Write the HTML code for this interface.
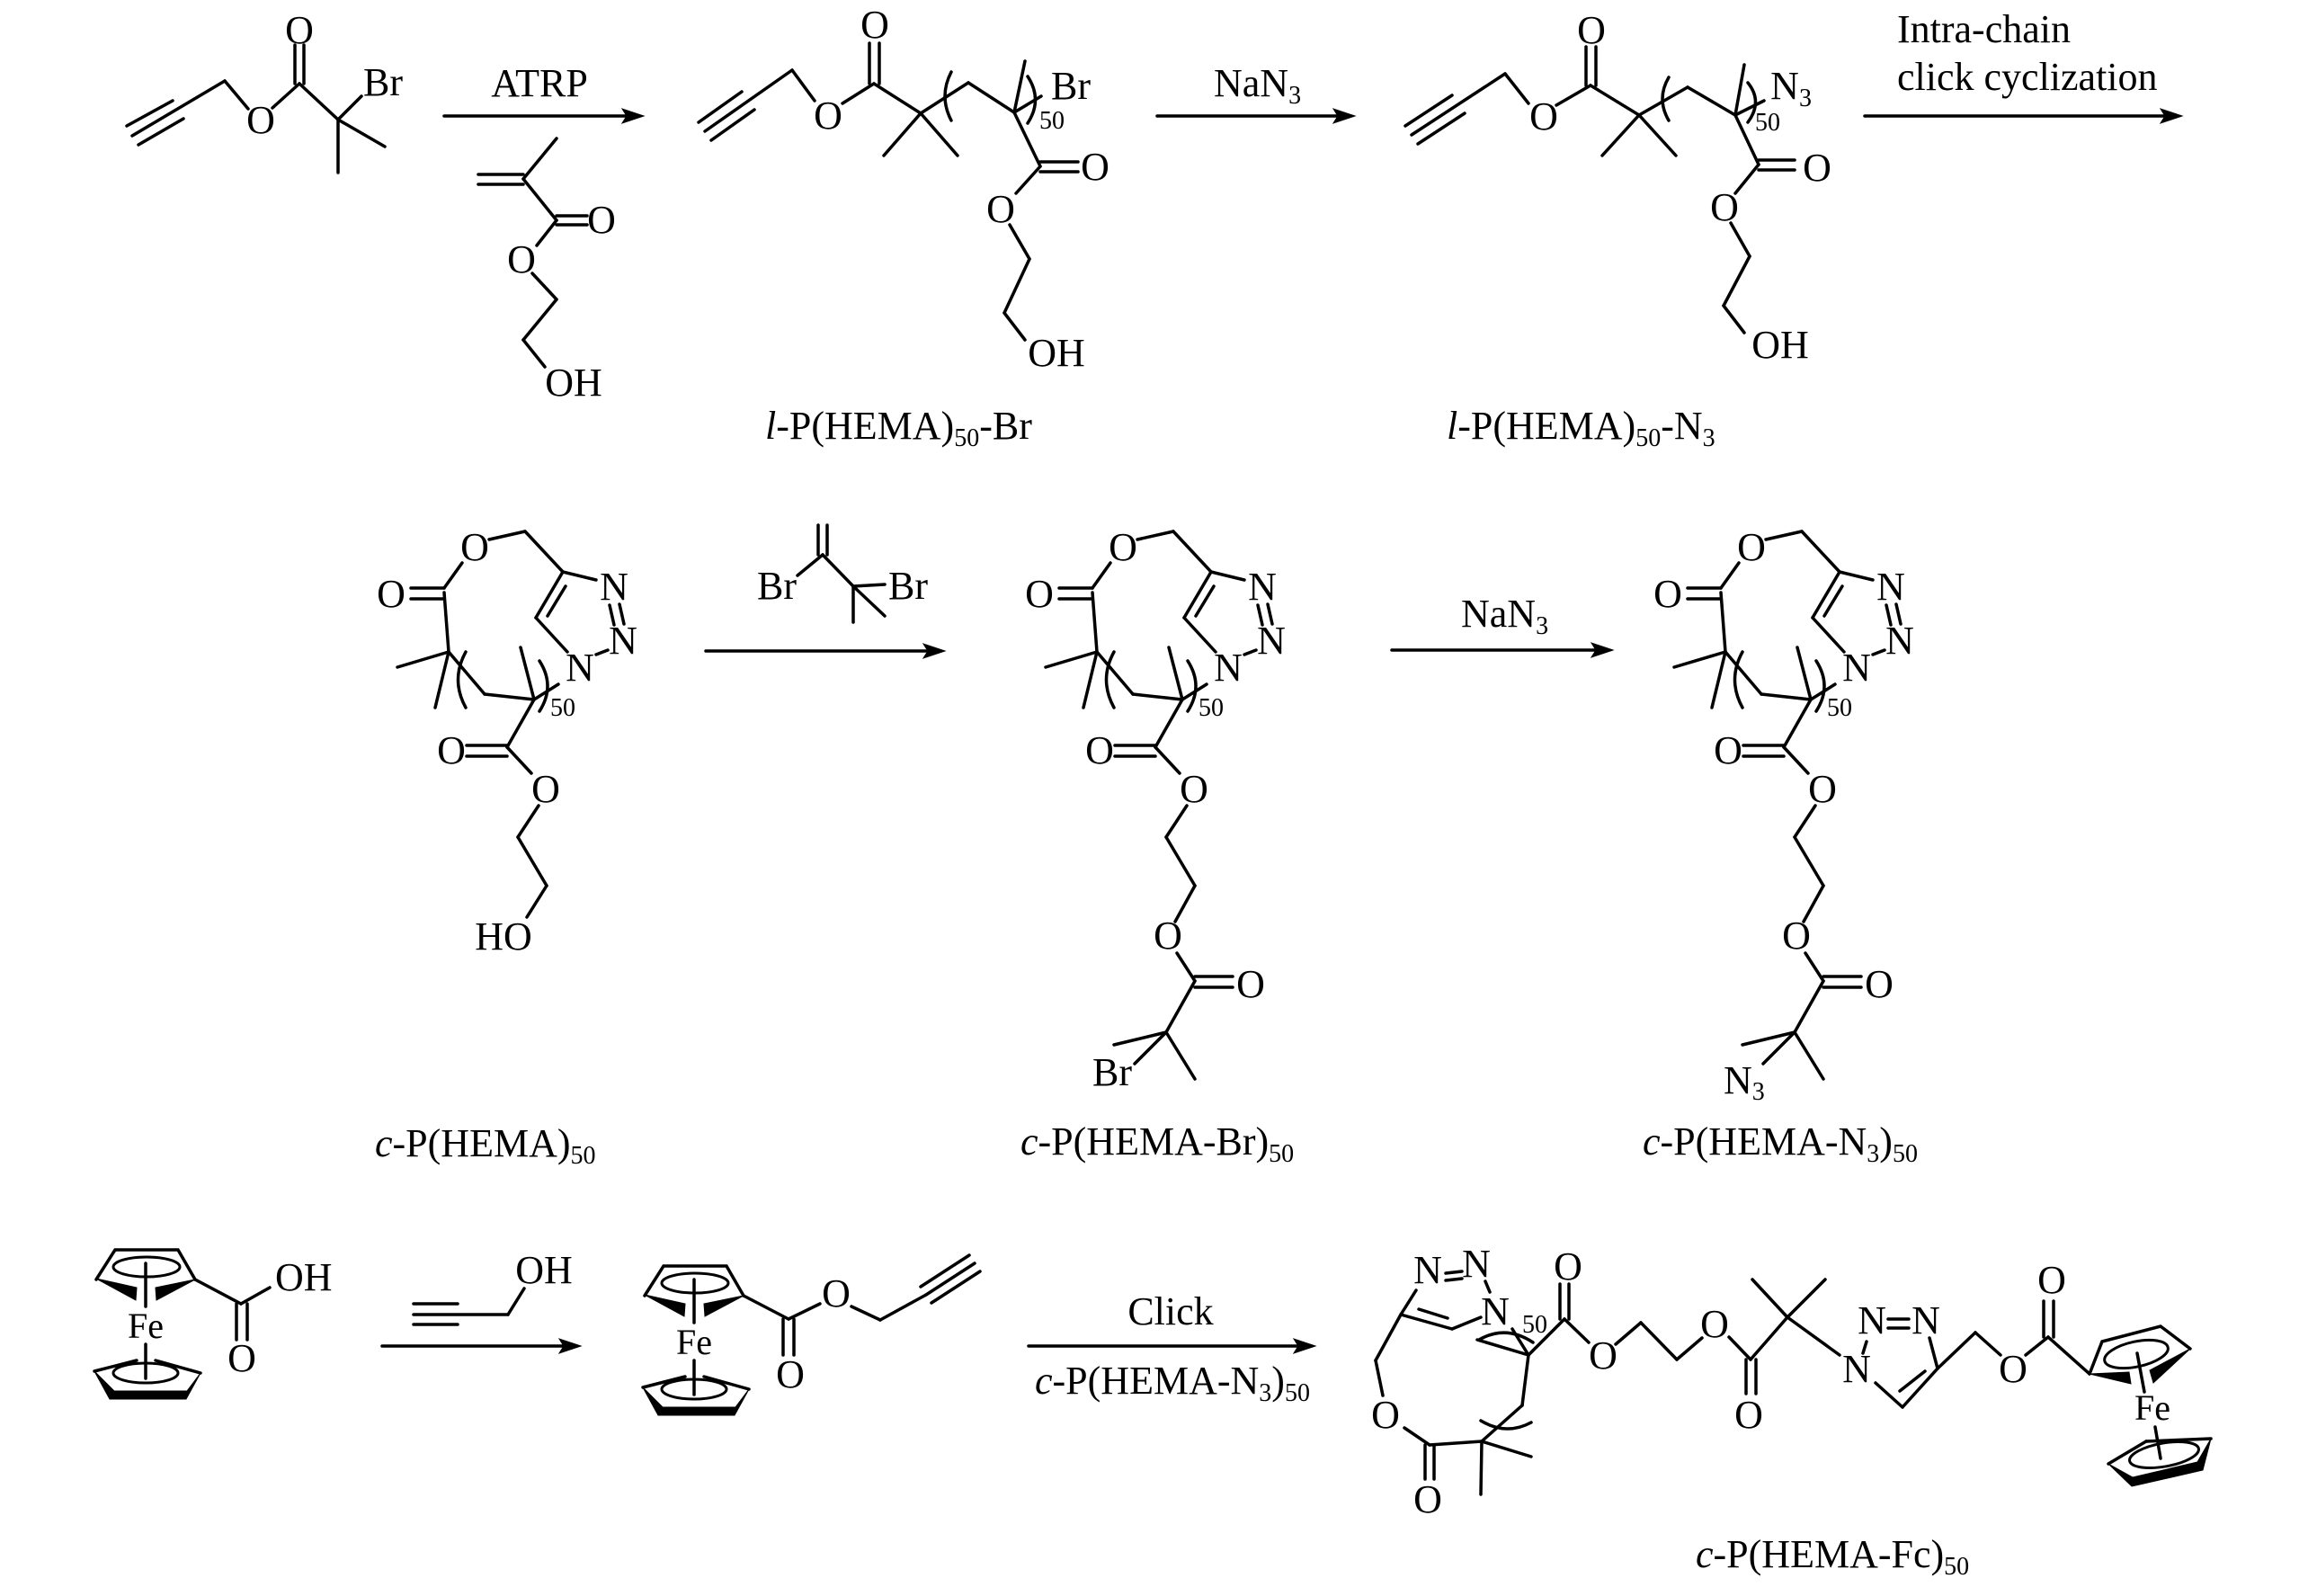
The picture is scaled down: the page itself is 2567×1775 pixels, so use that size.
<!DOCTYPE html>
<html><head><meta charset="utf-8"><style>
html,body{margin:0;padding:0;background:#fff;}
svg{display:block;}
line,path,polyline{stroke:#000;stroke-width:3.5;fill:none;stroke-linecap:round;}
ellipse{stroke:#000;stroke-width:3;fill:none;}
polygon{fill:#000;stroke:#000;stroke-width:1;}
text{font-family:"Liberation Serif","Times New Roman",serif;font-size:44px;fill:#000;}
.m{text-anchor:middle;}
.s{font-size:28px;}
.fe{font-size:40px;}
</style></head><body>
<svg width="2567" height="1775" viewBox="0 0 2567 1775" xmlns="http://www.w3.org/2000/svg">
<rect width="2567" height="1775" fill="#fff"/>

<!-- ===== Row 1: initiator ===== -->
<line x1="141" y1="140" x2="192" y2="112"/>
<line x1="147" y1="151" x2="250" y2="90"/>
<line x1="154" y1="161" x2="204" y2="132"/>
<line x1="250" y1="90" x2="276" y2="121"/>
<text class="m" x="290" y="148">O</text>
<line x1="303" y1="120" x2="333" y2="93"/>
<line x1="328" y1="93" x2="328" y2="50"/>
<line x1="338" y1="93" x2="338" y2="50"/>
<text class="m" x="333" y="48">O</text>
<line x1="333" y1="93" x2="376" y2="133"/>
<line x1="376" y1="133" x2="402" y2="107"/>
<text class="m" x="426" y="106">Br</text>
<line x1="376" y1="133" x2="428" y2="163"/>
<line x1="376" y1="133" x2="376" y2="192"/>

<!-- ATRP arrow -->
<line x1="494" y1="129" x2="700" y2="129" stroke-width="3"/>
<polygon points="716,129 692,121 697,129 692,137"/>
<text class="m" x="600" y="107">ATRP</text>

<!-- HEMA monomer -->
<line x1="619" y1="154" x2="582" y2="199"/>
<line x1="532" y1="194" x2="582" y2="194"/>
<line x1="532" y1="205" x2="582" y2="205"/>
<line x1="582" y1="199" x2="619" y2="245"/>
<line x1="619" y1="240" x2="653" y2="240"/>
<line x1="619" y1="250" x2="653" y2="250"/>
<text class="m" x="669" y="259">O</text>
<line x1="619" y1="245" x2="597" y2="273"/>
<text class="m" x="580" y="303">O</text>
<line x1="592" y1="304" x2="619" y2="333"/>
<line x1="619" y1="333" x2="582" y2="378"/>
<line x1="582" y1="378" x2="606" y2="408"/>
<text class="m" x="638" y="440">OH</text>

<!-- l-P(HEMA)50-Br -->
<line x1="777" y1="136" x2="825" y2="102"/>
<line x1="784" y1="146" x2="881" y2="78"/>
<line x1="791" y1="156" x2="839" y2="122"/>
<line x1="881" y1="78" x2="906" y2="112"/>
<text class="m" x="921" y="143">O</text>
<line x1="937" y1="115" x2="972" y2="93"/>
<line x1="967" y1="93" x2="967" y2="48"/>
<line x1="978" y1="93" x2="978" y2="48"/>
<text class="m" x="973" y="42">O</text>
<line x1="972" y1="93" x2="1024" y2="126"/>
<line x1="1024" y1="126" x2="983" y2="173"/>
<line x1="1024" y1="126" x2="1065" y2="173"/>
<line x1="1024" y1="126" x2="1077" y2="92"/>
<path d="M1058,80 Q1044,107 1058,134" stroke-width="3"/>
<line x1="1077" y1="92" x2="1128" y2="125"/>
<line x1="1128" y1="125" x2="1140" y2="68"/>
<line x1="1128" y1="125" x2="1158" y2="107"/>
<text class="m" x="1191" y="110">Br</text>
<path d="M1143,85 Q1160,111 1143,137" stroke-width="3"/>
<text class="m s" x="1170" y="143">50</text>
<line x1="1128" y1="125" x2="1157" y2="185"/>
<line x1="1157" y1="180" x2="1199" y2="180"/>
<line x1="1157" y1="191" x2="1199" y2="191"/>
<text class="m" x="1218" y="200">O</text>
<line x1="1157" y1="185" x2="1130" y2="215"/>
<text class="m" x="1113" y="247">O</text>
<line x1="1123" y1="250" x2="1145" y2="288"/>
<line x1="1145" y1="288" x2="1117" y2="348"/>
<line x1="1117" y1="348" x2="1140" y2="378"/>
<text class="m" x="1175" y="407">OH</text>
<text x="851" y="488"><tspan font-style="italic">l</tspan>-P(HEMA)<tspan class="s" dy="8">50</tspan><tspan dy="-8">-Br</tspan></text>

<!-- NaN3 arrow -->
<line x1="1287" y1="129" x2="1491" y2="129" stroke-width="3"/>
<polygon points="1507,129 1483,121 1488,129 1483,137"/>
<text x="1350" y="107">NaN<tspan class="s" dy="8">3</tspan></text>

<!-- l-P(HEMA)50-N3 -->
<line x1="1563" y1="140" x2="1615" y2="106"/>
<line x1="1570" y1="150" x2="1674" y2="82"/>
<line x1="1577" y1="160" x2="1629" y2="126"/>
<line x1="1674" y1="82" x2="1700" y2="115"/>
<text class="m" x="1717" y="144">O</text>
<line x1="1731" y1="117" x2="1769" y2="95"/>
<line x1="1764" y1="95" x2="1764" y2="52"/>
<line x1="1775" y1="95" x2="1775" y2="52"/>
<text class="m" x="1770" y="48">O</text>
<line x1="1769" y1="95" x2="1823" y2="128"/>
<line x1="1823" y1="128" x2="1782" y2="173"/>
<line x1="1823" y1="128" x2="1864" y2="173"/>
<line x1="1823" y1="128" x2="1877" y2="97"/>
<path d="M1856,86 Q1842,110 1856,134" stroke-width="3"/>
<line x1="1877" y1="97" x2="1930" y2="128"/>
<line x1="1930" y1="128" x2="1940" y2="72"/>
<line x1="1930" y1="128" x2="1962" y2="112"/>
<text class="m" x="1985" y="110">N</text>
<text class="s" x="2001" y="118">3</text>
<path d="M1944,92 Q1961,113 1944,136" stroke-width="3"/>
<text class="m s" x="1966" y="145">50</text>
<line x1="1930" y1="128" x2="1956" y2="183"/>
<line x1="1956" y1="178" x2="1996" y2="178"/>
<line x1="1956" y1="189" x2="1996" y2="189"/>
<text class="m" x="2021" y="201">O</text>
<line x1="1956" y1="183" x2="1930" y2="215"/>
<text class="m" x="1918" y="245">O</text>
<line x1="1925" y1="248" x2="1946" y2="285"/>
<line x1="1946" y1="285" x2="1917" y2="340"/>
<line x1="1917" y1="340" x2="1940" y2="370"/>
<text class="m" x="1980" y="398">OH</text>
<text x="1609" y="488"><tspan font-style="italic">l</tspan>-P(HEMA)<tspan class="s" dy="8">50</tspan><tspan dy="-8">-N</tspan><tspan class="s" dy="8">3</tspan></text>

<!-- Intra-chain arrow -->
<text x="2110" y="47">Intra-chain</text>
<text x="2110" y="100">click cyclization</text>
<line x1="2074" y1="129" x2="2411" y2="129" stroke-width="3"/>
<polygon points="2427,129 2403,121 2408,129 2403,137"/>

<!-- ===== Row 2 ===== -->
<!-- A: c-P(HEMA)50 -->
<g>
<text class="m" x="528" y="623">O</text>
<line x1="544" y1="600" x2="584" y2="591"/>
<line x1="584" y1="591" x2="626" y2="636"/>
<line x1="626" y1="636" x2="663" y2="645"/>
<text class="m" x="683" y="667">N</text>
<line x1="678" y1="673" x2="683" y2="695"/>
<line x1="689" y1="672" x2="694" y2="694"/>
<text class="m" x="693" y="727">N</text>
<line x1="663" y1="728" x2="676" y2="723"/>
<text class="m" x="645" y="757">N</text>
<line x1="596" y1="687" x2="631" y2="725"/>
<line x1="626" y1="636" x2="596" y2="687"/>
<line x1="629" y1="652" x2="609" y2="685"/>
<line x1="494" y1="654" x2="514" y2="626"/>
<line x1="457" y1="654" x2="494" y2="654"/>
<line x1="457" y1="666" x2="494" y2="666"/>
<text class="m" x="435" y="675">O</text>
<line x1="494" y1="659" x2="499" y2="725"/>
<line x1="499" y1="725" x2="442" y2="742"/>
<line x1="499" y1="725" x2="484" y2="787"/>
<line x1="499" y1="725" x2="539" y2="772"/>
<path d="M518,725 Q501,756 518,787" stroke-width="3"/>
<line x1="539" y1="772" x2="594" y2="778"/>
<line x1="594" y1="778" x2="579" y2="720"/>
<line x1="594" y1="778" x2="621" y2="761"/>
<path d="M600,735 Q618,763 600,791" stroke-width="3"/>
<text class="m s" x="626" y="796">50</text>
<line x1="594" y1="778" x2="564" y2="831"/>
<line x1="519" y1="829" x2="564" y2="829"/>
<line x1="519" y1="841" x2="564" y2="841"/>
<text class="m" x="502" y="849">O</text>
<line x1="564" y1="831" x2="591" y2="860"/>
<text class="m" x="607" y="892">O</text>
<line x1="599" y1="896" x2="576" y2="931"/>
<line x1="576" y1="931" x2="608" y2="985"/>
</g>
<line x1="608" y1="985" x2="586" y2="1020"/>
<text class="m" x="560" y="1056">HO</text>
<text x="417" y="1286"><tspan font-style="italic">c</tspan>-P(HEMA)<tspan class="s" dy="8">50</tspan></text>

<!-- reagent -->
<line x1="910" y1="584" x2="910" y2="617"/>
<line x1="920" y1="584" x2="920" y2="617"/>
<line x1="915" y1="617" x2="887" y2="640"/>
<text class="m" x="864" y="666">Br</text>
<line x1="915" y1="617" x2="949" y2="652"/>
<line x1="949" y1="652" x2="984" y2="650"/>
<text class="m" x="1010" y="666">Br</text>
<line x1="949" y1="652" x2="949" y2="692"/>
<line x1="949" y1="652" x2="984" y2="685"/>
<line x1="785" y1="724" x2="1035" y2="724" stroke-width="3"/>
<polygon points="1051,724 1027,716 1032,724 1027,732"/>

<!-- B: c-P(HEMA-Br)50 -->
<g transform="translate(721,0)">
<text class="m" x="528" y="623">O</text>
<line x1="544" y1="600" x2="584" y2="591"/>
<line x1="584" y1="591" x2="626" y2="636"/>
<line x1="626" y1="636" x2="663" y2="645"/>
<text class="m" x="683" y="667">N</text>
<line x1="678" y1="673" x2="683" y2="695"/>
<line x1="689" y1="672" x2="694" y2="694"/>
<text class="m" x="693" y="727">N</text>
<line x1="663" y1="728" x2="676" y2="723"/>
<text class="m" x="645" y="757">N</text>
<line x1="596" y1="687" x2="631" y2="725"/>
<line x1="626" y1="636" x2="596" y2="687"/>
<line x1="629" y1="652" x2="609" y2="685"/>
<line x1="494" y1="654" x2="514" y2="626"/>
<line x1="457" y1="654" x2="494" y2="654"/>
<line x1="457" y1="666" x2="494" y2="666"/>
<text class="m" x="435" y="675">O</text>
<line x1="494" y1="659" x2="499" y2="725"/>
<line x1="499" y1="725" x2="442" y2="742"/>
<line x1="499" y1="725" x2="484" y2="787"/>
<line x1="499" y1="725" x2="539" y2="772"/>
<path d="M518,725 Q501,756 518,787" stroke-width="3"/>
<line x1="539" y1="772" x2="594" y2="778"/>
<line x1="594" y1="778" x2="579" y2="720"/>
<line x1="594" y1="778" x2="621" y2="761"/>
<path d="M600,735 Q618,763 600,791" stroke-width="3"/>
<text class="m s" x="626" y="796">50</text>
<line x1="594" y1="778" x2="564" y2="831"/>
<line x1="519" y1="829" x2="564" y2="829"/>
<line x1="519" y1="841" x2="564" y2="841"/>
<text class="m" x="502" y="849">O</text>
<line x1="564" y1="831" x2="591" y2="860"/>
<text class="m" x="607" y="892">O</text>
<line x1="599" y1="896" x2="576" y2="931"/>
<line x1="576" y1="931" x2="608" y2="985"/>
</g>
<line x1="1329" y1="985" x2="1307" y2="1025"/>
<text class="m" x="1299" y="1055">O</text>
<line x1="1309" y1="1060" x2="1329" y2="1091"/>
<line x1="1329" y1="1086" x2="1371" y2="1086"/>
<line x1="1329" y1="1098" x2="1371" y2="1098"/>
<text class="m" x="1391" y="1109">O</text>
<line x1="1329" y1="1091" x2="1297" y2="1148"/>
<line x1="1297" y1="1148" x2="1239" y2="1162"/>
<line x1="1297" y1="1148" x2="1262" y2="1183"/>
<text class="m" x="1237" y="1207">Br</text>
<line x1="1297" y1="1148" x2="1329" y2="1200"/>
<text x="1135" y="1284"><tspan font-style="italic">c</tspan>-P(HEMA-Br)<tspan class="s" dy="8">50</tspan></text>

<!-- NaN3 arrow 2 -->
<text x="1625" y="697">NaN<tspan class="s" dy="8">3</tspan></text>
<line x1="1548" y1="723" x2="1778" y2="723" stroke-width="3"/>
<polygon points="1794,723 1770,715 1775,723 1770,731"/>

<!-- C: c-P(HEMA-N3)50 -->
<g transform="translate(1420,0)">
<text class="m" x="528" y="623">O</text>
<line x1="544" y1="600" x2="584" y2="591"/>
<line x1="584" y1="591" x2="626" y2="636"/>
<line x1="626" y1="636" x2="663" y2="645"/>
<text class="m" x="683" y="667">N</text>
<line x1="678" y1="673" x2="683" y2="695"/>
<line x1="689" y1="672" x2="694" y2="694"/>
<text class="m" x="693" y="727">N</text>
<line x1="663" y1="728" x2="676" y2="723"/>
<text class="m" x="645" y="757">N</text>
<line x1="596" y1="687" x2="631" y2="725"/>
<line x1="626" y1="636" x2="596" y2="687"/>
<line x1="629" y1="652" x2="609" y2="685"/>
<line x1="494" y1="654" x2="514" y2="626"/>
<line x1="457" y1="654" x2="494" y2="654"/>
<line x1="457" y1="666" x2="494" y2="666"/>
<text class="m" x="435" y="675">O</text>
<line x1="494" y1="659" x2="499" y2="725"/>
<line x1="499" y1="725" x2="442" y2="742"/>
<line x1="499" y1="725" x2="484" y2="787"/>
<line x1="499" y1="725" x2="539" y2="772"/>
<path d="M518,725 Q501,756 518,787" stroke-width="3"/>
<line x1="539" y1="772" x2="594" y2="778"/>
<line x1="594" y1="778" x2="579" y2="720"/>
<line x1="594" y1="778" x2="621" y2="761"/>
<path d="M600,735 Q618,763 600,791" stroke-width="3"/>
<text class="m s" x="626" y="796">50</text>
<line x1="594" y1="778" x2="564" y2="831"/>
<line x1="519" y1="829" x2="564" y2="829"/>
<line x1="519" y1="841" x2="564" y2="841"/>
<text class="m" x="502" y="849">O</text>
<line x1="564" y1="831" x2="591" y2="860"/>
<text class="m" x="607" y="892">O</text>
<line x1="599" y1="896" x2="576" y2="931"/>
<line x1="576" y1="931" x2="608" y2="985"/>
</g>
<line x1="2028" y1="985" x2="2006" y2="1025"/>
<text class="m" x="1998" y="1055">O</text>
<line x1="2008" y1="1060" x2="2028" y2="1091"/>
<line x1="2028" y1="1086" x2="2070" y2="1086"/>
<line x1="2028" y1="1098" x2="2070" y2="1098"/>
<text class="m" x="2090" y="1109">O</text>
<line x1="2028" y1="1091" x2="1996" y2="1148"/>
<line x1="1996" y1="1148" x2="1938" y2="1162"/>
<line x1="1996" y1="1148" x2="1961" y2="1183"/>
<text x="1917" y="1216">N<tspan class="s" dy="7">3</tspan></text>
<line x1="1996" y1="1148" x2="2028" y2="1200"/>
<text x="1827" y="1284"><tspan font-style="italic">c</tspan>-P(HEMA-N<tspan class="s" dy="8">3</tspan><tspan dy="-8">)</tspan><tspan class="s" dy="8">50</tspan></text>

<!-- ===== Row 3 ===== -->
<!-- Ferrocenecarboxylic acid -->
<polyline points="107,1423 128,1390 198,1390 217,1423"/>
<polygon points="107,1422 152,1432 151,1446"/>
<polygon points="217,1423 173,1432 174,1446"/>
<ellipse cx="163" cy="1409" rx="37" ry="11"/>
<line x1="162" y1="1405" x2="162" y2="1453" stroke-width="3"/>
<text class="m fe" x="162" y="1488">Fe</text>
<line x1="162" y1="1495" x2="162" y2="1533" stroke-width="3"/>
<line x1="105" y1="1525" x2="152" y2="1513"/>
<line x1="173" y1="1513" x2="223" y2="1527"/>
<polygon points="105,1525 122,1556 207,1556 223,1527 208,1547 127,1547"/>
<ellipse cx="162" cy="1527" rx="36" ry="11"/>
<line x1="217" y1="1423" x2="268" y2="1450"/>
<line x1="268" y1="1450" x2="300" y2="1432"/>
<text x="306" y="1435">OH</text>
<line x1="263" y1="1450" x2="263" y2="1490"/>
<line x1="275" y1="1450" x2="275" y2="1490"/>
<text class="m" x="269" y="1525">O</text>

<!-- propargyl alcohol -->
<line x1="460" y1="1450" x2="509" y2="1450" stroke-width="4.5"/>
<line x1="460" y1="1462" x2="565" y2="1462" stroke-width="4"/>
<line x1="460" y1="1473" x2="509" y2="1473" stroke-width="4.5"/>
<line x1="565" y1="1462" x2="583" y2="1433"/>
<text class="m" x="605" y="1427">OH</text>
<line x1="425" y1="1497" x2="630" y2="1497" stroke-width="3"/>
<polygon points="646,1497 622,1489 627,1497 622,1505"/>

<!-- Fc ester -->
<polyline points="717,1441 738,1408 808,1408 827,1441"/>
<polygon points="717,1440 762,1450 761,1464"/>
<polygon points="827,1441 783,1450 784,1464"/>
<ellipse cx="773" cy="1427" rx="37" ry="11"/>
<line x1="772" y1="1423" x2="772" y2="1471" stroke-width="3"/>
<text class="m fe" x="772" y="1506">Fe</text>
<line x1="772" y1="1513" x2="772" y2="1551" stroke-width="3"/>
<line x1="715" y1="1543" x2="762" y2="1531"/>
<line x1="783" y1="1531" x2="833" y2="1545"/>
<polygon points="715,1543 732,1574 817,1574 833,1545 818,1565 737,1565"/>
<ellipse cx="772" cy="1545" rx="36" ry="11"/>
<line x1="827" y1="1441" x2="877" y2="1467"/>
<line x1="871" y1="1467" x2="871" y2="1507"/>
<line x1="883" y1="1467" x2="883" y2="1507"/>
<text class="m" x="879" y="1543">O</text>
<line x1="877" y1="1467" x2="912" y2="1450"/>
<text class="m" x="930" y="1453">O</text>
<line x1="947" y1="1453" x2="979" y2="1468"/>
<line x1="979" y1="1468" x2="1030" y2="1440"/>
<line x1="1024" y1="1431" x2="1078" y2="1396"/>
<line x1="1030" y1="1440" x2="1084" y2="1405"/>
<line x1="1036" y1="1449" x2="1090" y2="1414"/>

<!-- Click arrow -->
<text class="m" x="1302" y="1473">Click</text>
<line x1="1144" y1="1497" x2="1447" y2="1497" stroke-width="3"/>
<polygon points="1463,1497 1439,1489 1444,1497 1439,1505"/>
<text x="1151" y="1550"><tspan font-style="italic">c</tspan>-P(HEMA-N<tspan class="s" dy="8">3</tspan><tspan dy="-8">)</tspan><tspan class="s" dy="8">50</tspan></text>

<!-- c-P(HEMA-Fc)50 -->
<text class="m" x="1588" y="1427">N</text>
<line x1="1608" y1="1416" x2="1626" y2="1414"/>
<line x1="1608" y1="1424" x2="1626" y2="1422"/>
<text class="m" x="1642" y="1420">N</text>
<line x1="1652" y1="1425" x2="1657" y2="1437"/>
<text class="m" x="1663" y="1473">N</text>
<text class="m s" x="1707" y="1482">50</text>
<line x1="1558" y1="1462" x2="1575" y2="1435"/>
<line x1="1558" y1="1462" x2="1615" y2="1478"/>
<line x1="1578" y1="1456" x2="1610" y2="1466"/>
<line x1="1615" y1="1478" x2="1647" y2="1465"/>
<line x1="1558" y1="1462" x2="1530" y2="1513"/>
<line x1="1530" y1="1513" x2="1538" y2="1552"/>
<text class="m" x="1541" y="1588">O</text>
<line x1="1562" y1="1588" x2="1590" y2="1607"/>
<line x1="1585" y1="1607" x2="1585" y2="1645"/>
<line x1="1595" y1="1607" x2="1595" y2="1645"/>
<text class="m" x="1588" y="1682">O</text>
<line x1="1590" y1="1607" x2="1648" y2="1603"/>
<line x1="1648" y1="1603" x2="1703" y2="1620"/>
<line x1="1648" y1="1603" x2="1647" y2="1662"/>
<line x1="1648" y1="1603" x2="1693" y2="1563"/>
<path d="M1647,1580 Q1675,1597 1703,1582" stroke-width="3"/>
<line x1="1693" y1="1563" x2="1700" y2="1507"/>
<line x1="1700" y1="1507" x2="1740" y2="1467"/>
<line x1="1700" y1="1507" x2="1643" y2="1490"/>
<line x1="1700" y1="1507" x2="1682" y2="1478"/>
<path d="M1645,1490 Q1675,1473 1705,1493" stroke-width="3"/>
<line x1="1735" y1="1428" x2="1735" y2="1467"/>
<line x1="1745" y1="1428" x2="1745" y2="1467"/>
<text class="m" x="1744" y="1423">O</text>
<line x1="1740" y1="1467" x2="1767" y2="1493"/>
<text class="m" x="1783" y="1522">O</text>
<line x1="1797" y1="1495" x2="1825" y2="1471"/>
<line x1="1825" y1="1471" x2="1865" y2="1512"/>
<line x1="1865" y1="1512" x2="1893" y2="1488"/>
<text class="m" x="1907" y="1487">O</text>
<line x1="1923" y1="1487" x2="1947" y2="1512"/>
<line x1="1942" y1="1512" x2="1942" y2="1550"/>
<line x1="1953" y1="1512" x2="1953" y2="1550"/>
<text class="m" x="1945" y="1588">O</text>
<line x1="1947" y1="1512" x2="1988" y2="1465"/>
<line x1="1988" y1="1465" x2="1949" y2="1423"/>
<line x1="1988" y1="1465" x2="2030" y2="1423"/>
<line x1="1988" y1="1465" x2="2046" y2="1507"/>
<text class="m" x="2065" y="1537">N</text>
<line x1="2076" y1="1492" x2="2072" y2="1505"/>
<text class="m" x="2082" y="1483">N</text>
<line x1="2100" y1="1467" x2="2123" y2="1467" stroke-width="4.5"/>
<line x1="2100" y1="1477" x2="2123" y2="1477" stroke-width="4.5"/>
<text class="m" x="2142" y="1483">N</text>
<line x1="2146" y1="1488" x2="2155" y2="1522"/>
<line x1="2155" y1="1522" x2="2116" y2="1565"/>
<line x1="2141" y1="1525" x2="2113" y2="1547"/>
<line x1="2116" y1="1565" x2="2086" y2="1538"/>
<line x1="2155" y1="1522" x2="2197" y2="1482"/>
<line x1="2197" y1="1482" x2="2225" y2="1507"/>
<text class="m" x="2239" y="1537">O</text>
<line x1="2253" y1="1507" x2="2278" y2="1487"/>
<line x1="2273" y1="1447" x2="2273" y2="1487"/>
<line x1="2284" y1="1447" x2="2284" y2="1487"/>
<text class="m" x="2282" y="1438">O</text>
<line x1="2278" y1="1487" x2="2324" y2="1528"/>
<polyline points="2324,1528 2338,1492 2403,1475 2436,1500"/>
<polygon points="2324,1528 2368,1526 2370,1539"/>
<polygon points="2436,1500 2391,1524 2395,1538"/>
<ellipse cx="2376" cy="1506" rx="36" ry="14" transform="rotate(-12 2376 1506)"/>
<line x1="2377" y1="1505" x2="2385" y2="1548" stroke-width="3"/>
<text class="m fe" x="2394" y="1579">Fe</text>
<line x1="2397" y1="1587" x2="2403" y2="1622" stroke-width="3"/>
<line x1="2345" y1="1628" x2="2387" y2="1603"/>
<line x1="2387" y1="1603" x2="2459" y2="1600"/>
<polygon points="2345,1628 2371,1653 2450,1635 2459,1600 2444,1626 2372,1643"/>
<ellipse cx="2407" cy="1618" rx="39" ry="13" transform="rotate(-10 2407 1618)"/>
<text x="1886" y="1743"><tspan font-style="italic">c</tspan>-P(HEMA-Fc)<tspan class="s" dy="8">50</tspan></text>
</svg>
</body></html>
